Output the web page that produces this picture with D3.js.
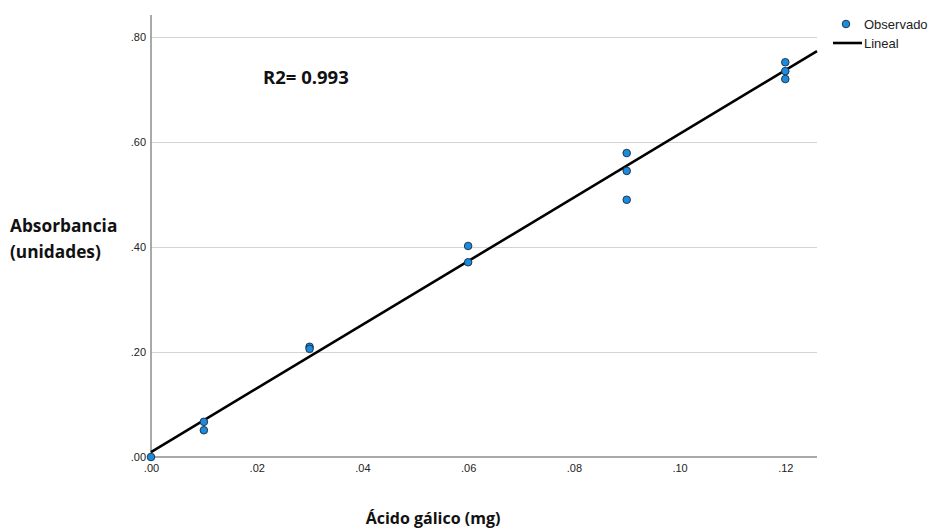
<!DOCTYPE html>
<html lang="es">
<head>
<meta charset="UTF-8">
<title>Curva de calibración</title>
<style>
    body { margin: 0; background: #fff; }
    .tick text { font: 11px "Liberation Sans", Arial, sans-serif; fill: #222; }
    .grid line { stroke: #d4d4d4; stroke-width: 1px; shape-rendering: crispEdges; }
    .grid path { stroke-width: 0; }
    .axis path { stroke: #8c8c8c; stroke-width: 1.5px; }
    .title { font: bold 16px "Open Sans", "Noto Sans", sans-serif; fill: #111; }
</style>
</head>
<body>
<script src="https://d3js.org/d3.v7.min.js"></script>
<script>
    // observed points (mg, absorbance)
    var xValues = [0.00, 0.01, 0.01, 0.03, 0.03, 0.06, 0.06, 0.09, 0.09, 0.09, 0.12, 0.12, 0.12];
    var yValues = [0.00, 0.067, 0.051, 0.210, 0.206, 0.402, 0.371, 0.579, 0.545, 0.490, 0.752, 0.735, 0.720];
    var xTicks = [0, 0.02, 0.04, 0.06, 0.08, 0.10, 0.12];
    var yTicks = [0, 0.2, 0.4, 0.6, 0.8];
    // linear fit
    var fitIntercept = 0.0095;
    var fitSlope = 6.06;
    var r2Label = "R2= 0.993";

    var W = 932, H = 529;
    var plotL = 151, plotR = 817, plotT = 15, plotB = 457;

    var x = d3.scaleLinear().domain([0, 0.126]).range([plotL, plotR]);
    var y = d3.scaleLinear().domain([0, 0.842]).range([plotB, plotT]);

    var svg = d3.select("body").append("svg")
        .attr("width", W).attr("height", H);

    var fmt = function (d) { return d3.format(".2f")(d).replace(/^0/, ""); };

    // horizontal gridlines
    svg.append("g")
        .attr("class", "grid")
        .attr("transform", "translate(" + plotL + ",0)")
        .call(d3.axisLeft(y).tickValues(yTicks.slice(1)).tickSize(-(plotR - plotL)).tickFormat(""));

    // y axis
    var gy = svg.append("g")
        .attr("class", "axis")
        .attr("transform", "translate(" + plotL + ",0)")
        .call(d3.axisLeft(y).tickValues(yTicks).tickSize(0).tickPadding(5).tickFormat(fmt));
    gy.select(".domain").attr("d", "M0," + plotT + "V" + plotB);

    // x axis
    var gx = svg.append("g")
        .attr("class", "axis")
        .attr("transform", "translate(0," + plotB + ")")
        .call(d3.axisBottom(x).tickValues(xTicks).tickSize(0).tickPadding(7).tickFormat(fmt));
    gx.select(".domain").attr("d", "M" + plotL + ",0H" + plotR);

    // fit line
    var line = d3.line()
        .x(function (d) { return x(d); })
        .y(function (d) { return y(fitIntercept + fitSlope * d); });
    svg.append("path")
        .datum([0, 0.126])
        .attr("d", line)
        .attr("fill", "none")
        .attr("stroke", "#000")
        .attr("stroke-width", 2.6);

    // points
    svg.append("g").selectAll("circle")
        .data(xValues)
        .enter().append("circle")
        .attr("cx", function (d) { return x(d); })
        .attr("cy", function (d, i) { return y(yValues[i]); })
        .attr("r", 3.8)
        .attr("fill", "#1b8be0")
        .attr("stroke", "#1a2a3a")
        .attr("stroke-width", 0.9);

    // R2 label
    svg.append("text")
        .attr("class", "title")
        .attr("x", 263).attr("y", 84)
        .style("font-size", "18.5px")
        .text(r2Label);

    // axis titles
    var yt = svg.append("text").attr("class", "title").attr("x", 10).attr("y", 232)
        .style("font-size", "17.3px");
    yt.append("tspan").attr("x", 10).text("Absorbancia");
    yt.append("tspan").attr("x", 10).attr("dy", 26).text("(unidades)");

    svg.append("text")
        .attr("class", "title")
        .attr("x", 433).attr("y", 524)
        .attr("text-anchor", "middle")
        .text("Ácido gálico (mg)");

    // legend
    var lg = svg.append("g").attr("font-family", "'Liberation Sans', Arial, sans-serif").attr("font-size", 13);
    lg.append("circle").attr("cx", 846).attr("cy", 24).attr("r", 3.8)
        .attr("fill", "#1b8be0").attr("stroke", "#1a2a3a").attr("stroke-width", 0.9);
    lg.append("text").attr("x", 864).attr("y", 29).attr("fill", "#222").text("Observado");
    lg.append("line").attr("x1", 833).attr("x2", 862).attr("y1", 43).attr("y2", 43)
        .attr("stroke", "#000").attr("stroke-width", 2.6);
    lg.append("text").attr("x", 864).attr("y", 48).attr("fill", "#222").text("Lineal");
</script>
</body>
</html>
